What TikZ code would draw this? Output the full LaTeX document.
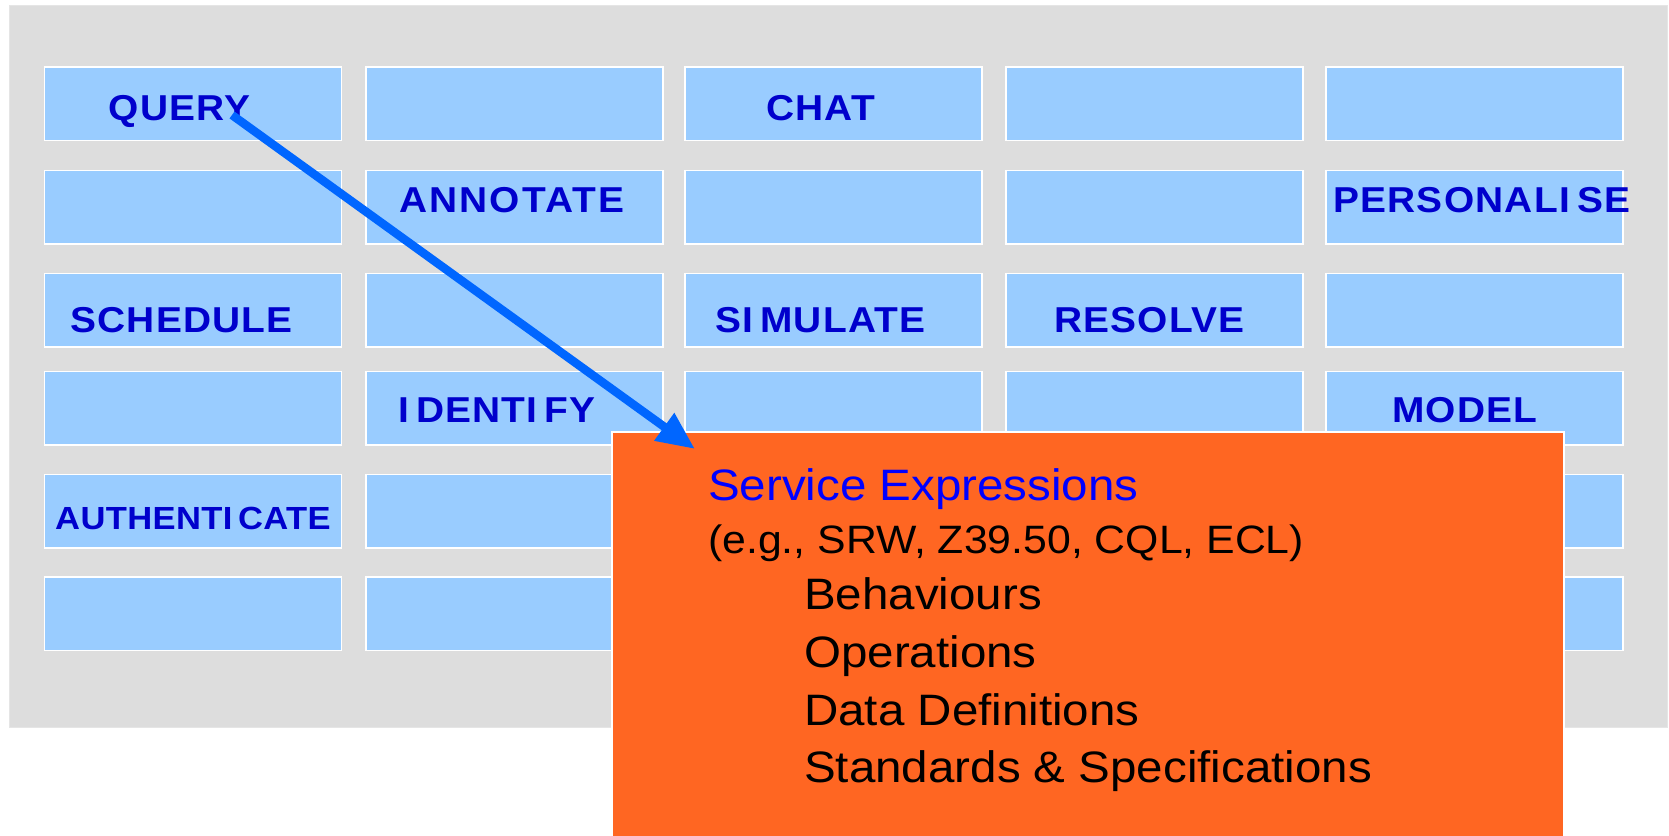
\documentclass[tikz,border=0pt]{standalone}
\usepackage{fontspec}
\setmainfont{Liberation Sans}[FakeStretch=1.08]
\usetikzlibrary{arrows.meta}
\definecolor{panelgray}{HTML}{DDDDDD}
\definecolor{cellblue}{HTML}{99CCFF}
\definecolor{labblue}{HTML}{0000CC}
\definecolor{seblue}{HTML}{0000FF}
\definecolor{orangebox}{HTML}{FF6622}
\definecolor{arrowblue}{HTML}{0066FF}
\newcommand{\wideI}{I\kern7pt}
\newcommand{\wideIs}{I\kern5.5pt}
\tikzset{
  cell/.style={draw=white, line width=1.5pt, fill=cellblue, minimum width=297pt, minimum height=73.5pt, inner sep=0pt, anchor=north west},
  lab/.style={text=labblue, font=\fontsize{36}{40}\selectfont\bfseries\addfontfeature{LetterSpace=3.5}, inner sep=0pt, anchor=base west},
  widelab/.style={lab, font=\fontsize{36}{40}\selectfont\bfseries\addfontfeature{LetterSpace=6}},
  smalllab/.style={lab, font=\fontsize{32}{36}\selectfont\bfseries\addfontfeature{LetterSpace=1.2}},
  linetext/.style={text=black, font=\fontsize{44}{50}\selectfont, inner sep=0pt, anchor=base west},
  pointer/.style={draw=arrowblue, line width=8.5pt, -{Triangle[length=38pt,width=32pt]}}
}
\begin{document}
\begin{tikzpicture}[x=1pt,y=-1pt]
\useasboundingbox (0,0) rectangle (1669,835);
\node[draw=white!90!black, line width=0.8pt, fill=panelgray, minimum width=1658pt, minimum height=722pt, inner sep=0pt, anchor=north west] (panel) at (9,5) {};
% grid of cells
\foreach \c/\x in {1/43.6,2/365,3/684,4/1005,5/1325}{
  \foreach \r/\y in {1/66,2/169.5,3/272.5,4/370.5,5/473.6,6/576}{
    \node[cell] (c\r\c) at (\x,\y) {};
  }
}
% labels
\node[lab] (query) at (108.6,120.7) {QUERY};
\node[lab] (chat) at (766,120.3) {CHAT};
\node[widelab] (annotate) at (399,212.3) {ANNOTATE};
\node[lab] (personalise) at (1333,212.3) {PERSONAL\wideI SE};
\node[lab] (schedule) at (70,332.3) {SCHEDULE};
\node[lab] (simulate) at (715,332.3) {S\wideI MULATE};
\node[lab] (resolve) at (1054,332.3) {RESOLVE};
\node[lab] (identify) at (398,422.6) {\wideI DENT\wideI FY};
\node[lab] (model) at (1392,422.6) {MODEL};
\node[smalllab] (authenticate) at (55,529) {AUTHENT\wideIs CATE};
% orange box
\node[draw=white, line width=1.5pt, fill=orangebox, minimum width=952pt, minimum height=420pt, inner sep=0pt, anchor=north west] (se) at (611,431) {};
\node[linetext, text=seblue] (setitle) at (708,500) {Service Expressions};
\node[linetext, font=\fontsize{39.6}{44}\selectfont] (eg) at (708,553) {(e.g., SRW, Z39.50, CQL, ECL)};
\node[linetext] (beh) at (804,609) {Behaviours};
\node[linetext] (ops) at (804,667) {Operations};
\node[linetext] (dd) at (804,725) {Data Definitions};
\node[linetext] (ss) at (804,782) {Standards \& Specifications};
% arrow
\coordinate (qa) at (232,115);
\coordinate (sa) at (695,449);
\draw[pointer] (qa) -- (sa);
\end{tikzpicture}
\end{document}
